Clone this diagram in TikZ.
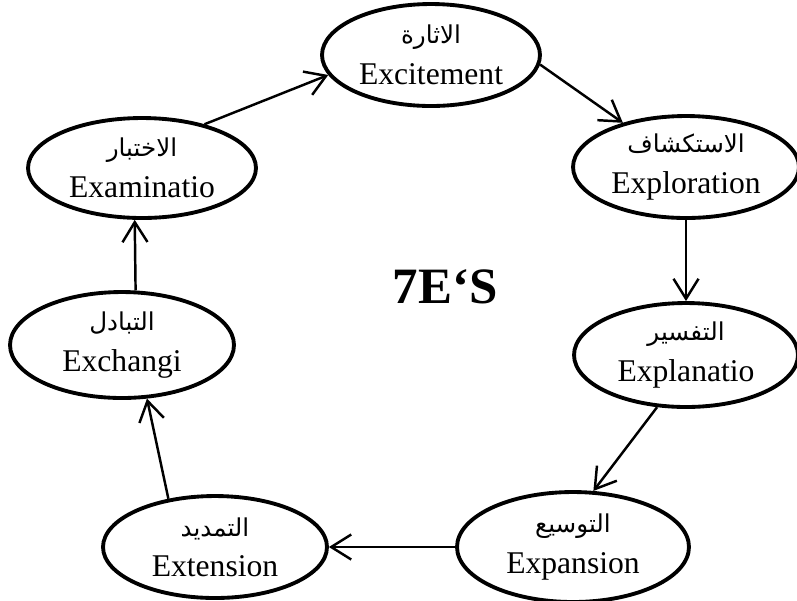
\documentclass[tikz,border=0pt]{standalone}
\usepackage{fontspec}
\setmainfont{Liberation Serif}
\newfontfamily\arabicfont[Script=Arabic]{DejaVu Sans}
\TeXXeTstate=1
\usepackage{tikz}
\usetikzlibrary{shapes.geometric, arrows.meta}

\newcommand{\ar}[1]{{\arabicfont\fontsize{14}{23}\selectfont\beginR #1\endR}}

\begin{document}
\begin{tikzpicture}[
    x=0.02cm, y=-0.02cm,
    stage/.style={ellipse, draw, line width=2.2pt, inner sep=0pt, align=center, font=\fontsize{18}{23}\selectfont},
    arrow/.style={line width=1.4pt, ->, >={Straight Barb[length=4mm, width=5mm]}}
]
\useasboundingbox (0,0) rectangle (797,600);

\node (excite) [stage, minimum width=4.36cm, minimum height=2.04cm] at (431,55) {\ar{الاثارة}\\Excitement};
\node (explore) [stage, minimum width=4.52cm, minimum height=2.04cm] at (686,167) {\ar{الاستكشاف}\\Exploration};
\node (explain) [stage, minimum width=4.48cm, minimum height=2.08cm] at (686,355) {\ar{التفسير}\\Explanatio};
\node (expand) [stage, minimum width=4.64cm, minimum height=2.2cm] at (573,547) {\ar{التوسيع}\\Expansion};
\node (extend) [stage, minimum width=4.48cm, minimum height=2.04cm] at (215,547) {\ar{التمديد}\\Extension};
\node (exchange) [stage, minimum width=4.48cm, minimum height=2.12cm] at (122,345) {\ar{التبادل}\\Exchangi};
\node (examine) [stage, minimum width=4.56cm, minimum height=2cm] at (142,168) {\ar{الاختبار}\\Examinatio};

\node (title) at (445,287) {\fontsize{29}{32}\selectfont\bfseries 7E‘S};

\draw [arrow] (examine.35) -- (excite.191);
\draw [arrow] (excite.355) -- (explore.145);
\draw [arrow] (explore.south) -- (explain.north);
\draw [arrow] (explain.241) -- (expand.70);
\draw [arrow] (expand.west) -- (extend.east);
\draw [arrow] (extend.134) -- (exchange.295);
\draw [arrow] (exchange.76) -- (examine.262);
\end{tikzpicture}
\end{document}
